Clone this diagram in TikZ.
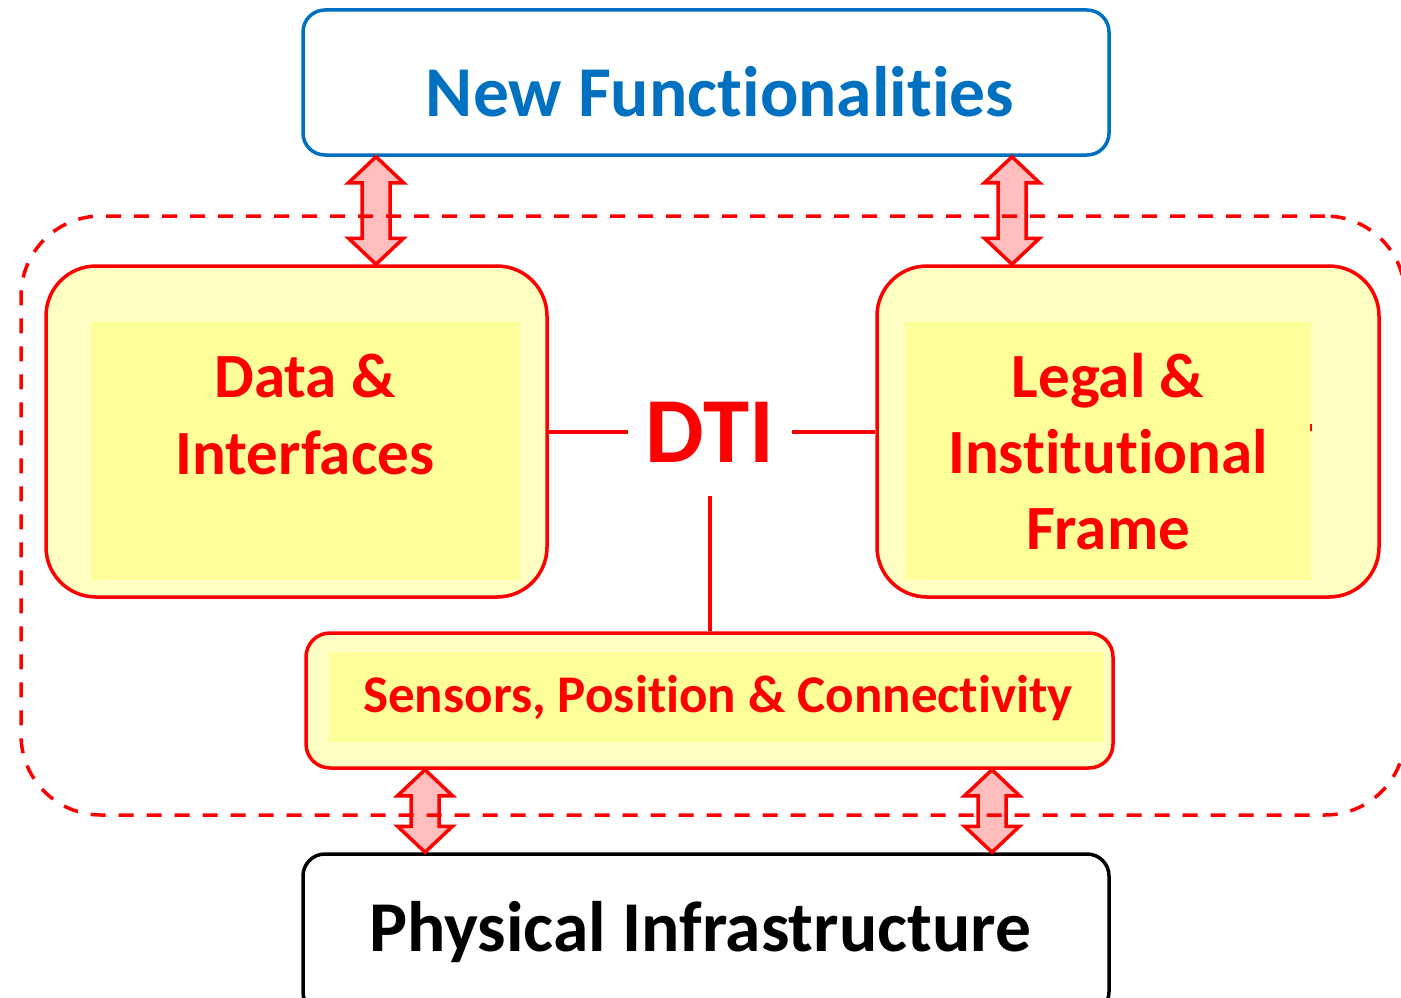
\documentclass[tikz,border=0pt]{standalone}
\usepackage{fontspec}
\setmainfont{Carlito}[Ligatures=NoCommon]
\usetikzlibrary{calc}
\definecolor{dred}{HTML}{FF0000}
\definecolor{dblue}{HTML}{0070C0}
\definecolor{yout}{HTML}{FFFFC4}
\definecolor{yin}{HTML}{FFFF99}
\definecolor{pinkf}{HTML}{FFBDBD}
\tikzset{
  bigbox/.style={draw=dred, line width=3.5pt, fill=yout, rounded corners=50pt, inner sep=0pt},
  innerrect/.style={fill=yin, inner sep=0pt, draw=none},
  outerbox/.style={line width=3.5pt, fill=white, rounded corners=22pt, inner sep=0pt, minimum width=806pt},
  redtxt/.style={text=dred, font=\bfseries, align=center},
  link/.style={draw=dred, line width=3.5pt},
  dblarrow/.style={draw=dred, fill=pinkf, line width=3.5pt, line join=miter},
  dashbox/.style={draw=dred, line width=3.5pt, dash pattern=on 15pt off 13pt, rounded corners=80pt}
}
\newcommand\dblarr[2]{%
  \path[dblarrow] let \p1=(#1), \p2=(#2) in
    (\x1,\y1) -- (\x1+27.5pt,\y1-26pt) -- (\x1+14pt,\y1-26pt) -- (\x1+14pt,\y2+26pt)
    -- (\x1+27.5pt,\y2+26pt) -- (\x1,\y2) -- (\x1-27.5pt,\y2+26pt) -- (\x1-14pt,\y2+26pt)
    -- (\x1-14pt,\y1-26pt) -- (\x1-27.5pt,\y1-26pt) -- cycle;}
\begin{document}
\begin{tikzpicture}[x=1pt,y=-1pt]
\useasboundingbox (0,0) rectangle (1401,998);
% top box
\node[outerbox, draw=dblue, minimum height=145pt] (top) at (706,82.5) {};
\node[text=dblue, font=\bfseries\fontsize{71.5}{84}\selectfont] (toptxt) at (720,92) {New Functionalities};
% bottom box
\node[outerbox, draw=black, minimum height=160pt] (phys) at (706,934) {};
\node[text=black, font=\bfseries\fontsize{71.5}{84}\selectfont] (phystxt) at (700,932) {Physical Infrastructure};
% left yellow box
\node[bigbox, minimum width=501pt, minimum height=331pt] (data) at (296.5,431.5) {};
\node[innerrect, minimum width=429pt, minimum height=258pt] (datain) at (305.5,451) {};
\node[redtxt, font=\bfseries\fontsize{63}{77}\selectfont] (datatxt) at (305,414) {Data \&\\Interfaces};
% right yellow box
\node[bigbox, minimum width=502pt, minimum height=331pt] (legal) at (1128,431.5) {};
\node[innerrect, minimum width=406pt, minimum height=258pt] (legalin) at (1108,451) {};
\node[redtxt, font=\bfseries\fontsize{63}{76}\selectfont] (legaltxt) at (1108,452) {Legal \&\\Institutional\\Frame};
\path[draw=dred, line width=2pt] (legalin.east |- 0,424) -- ++(0,7);
% sensors box
\node[bigbox, rounded corners=24pt, minimum width=807pt, minimum height=135pt] (sens) at (709.5,700.5) {};
\node[innerrect, minimum width=775pt, minimum height=90pt] (sensin) at (716.5,697) {};
\node[redtxt, font=\bfseries\fontsize{53}{60}\selectfont] (senstxt) at (718,698) {Sensors, Position \& Connectivity};
% DTI
\node[text=dred, font=\bfseries\fontsize{93}{100}\selectfont, minimum width=164pt, minimum height=128pt, inner sep=0pt] (dti) at (710,432) {DTI};
\draw[link] (dti.west -| data.east) -- (dti.west);
\draw[link] (dti.east) -- (dti.east -| legal.west);
\draw[link] (dti.south) -- (dti.south |- sens.north);
% arrows
\coordinate (xa) at (376,0);
\coordinate (xb) at (1012,0);
\coordinate (xc) at (425,0);
\coordinate (xd) at (992,0);
\dblarr{top.south -| xa}{data.north -| xa}
\dblarr{top.south -| xb}{legal.north -| xb}
\dblarr{sens.south -| xc}{phys.north -| xc}
\dblarr{sens.south -| xd}{phys.north -| xd}
% dashed DTI boundary
\node[dashbox, minimum width=1384pt, minimum height=599pt, inner sep=0pt] (dtib) at (713,515.5) {};
\end{tikzpicture}
\end{document}
